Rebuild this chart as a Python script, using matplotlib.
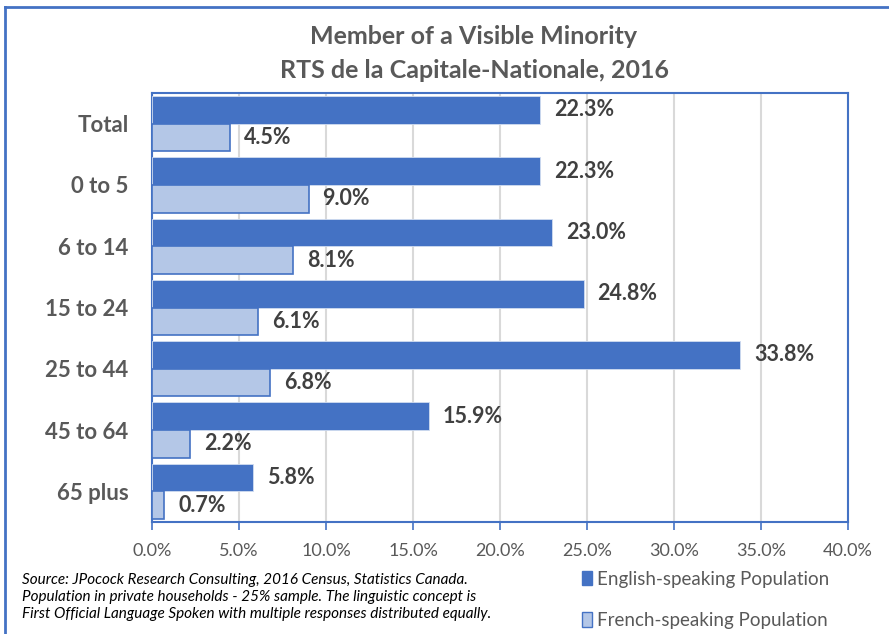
"""Member of a Visible Minority - RTS de la Capitale-Nationale, 2016"""

import numpy as np
from matplotlib import pyplot as plt
from matplotlib.patches import Patch
from matplotlib.lines import Line2D

plt.rcParams['font.family'] = ['Lato', 'DejaVu Sans']

categories = ["Total", "0 to 5", "6 to 14", "15 to 24", "25 to 44", "45 to 64", "65 plus"]
english = [22.3, 22.3, 23.0, 24.8, 33.8, 15.9, 5.8]
french = [4.5, 9.0, 8.1, 6.1, 6.8, 2.2, 0.7]
xticks = [0, 5, 10, 15, 20, 25, 30, 35, 40]

blue = "#4472C4"
light = "#B4C7E7"
grey = "#595959"

fig = plt.figure(figsize=(8.89, 6.34), dpi=100)
ax = fig.add_axes([152 / 889, 1 - 522 / 634, 696 / 889, 429 / 634])

y = np.arange(len(categories))
h = 0.45
ax.barh(y - h / 2, english, height=h, color=blue, edgecolor="#D0DCF0", linewidth=0.6, zorder=3)
ax.barh(y + h / 2, french, height=h, color=light, edgecolor=blue, linewidth=1.2, zorder=3)

# data labels
for yi, v in zip(y, english):
    ax.text(v + 0.8, yi - h / 2, f"{v:.1f}%", va="center", ha="left",
            fontsize=15.5, fontweight="bold", color="#404040")
for yi, v in zip(y, french):
    ax.text(v + 0.8, yi + h / 2, f"{v:.1f}%", va="center", ha="left",
            fontsize=15.5, fontweight="bold", color="#404040")

ax.set_xlim(0, 40)
ax.set_ylim(len(categories) - 0.5, -0.5)
ax.set_xticks(xticks)
ax.set_xticklabels([f"{t:.1f}%" for t in xticks], fontsize=13, color=grey)
ax.set_yticks(y)
ax.set_yticklabels(categories, fontsize=16, fontweight="bold", color=grey)
ax.tick_params(axis="y", length=0, pad=17)
ax.tick_params(axis="x", direction="out", length=6, width=1.2, color=blue, pad=9)
ax.grid(axis="x", color="#D9D9D9", linewidth=1.5, zorder=0)
for s in ax.spines.values():
    s.set_color(blue)
    s.set_linewidth(1.5)

fig.text(474 / 889, 1 - 37 / 634, "Member of a Visible Minority", ha="center", va="center",
         fontsize=18, fontweight="bold", color=grey)
fig.text(474 / 889, 1 - 70 / 634, "RTS de la Capitale-Nationale, 2016", ha="center", va="center",
         fontsize=18, fontweight="bold", color=grey)

fig.text(22 / 889, 1 - 597 / 634,
         "Source: JPocock Research Consulting, 2016 Census, Statistics Canada.\n"
         "Population in private households - 25% sample. The linguistic concept is\n"
         "First Official Language Spoken with multiple responses distributed equally.",
         ha="left", va="center", fontsize=11, fontstyle="italic", color="black", linespacing=1.25)

handles = [Patch(facecolor=blue, edgecolor=blue), Patch(facecolor=light, edgecolor=blue)]
fig.legend(handles, ["English-speaking Population", "French-speaking Population"],
           loc="upper left", bbox_to_anchor=(574 / 889, 1 - 563 / 634), frameon=False,
           fontsize=13.5, labelcolor=grey, handlelength=0.55, handleheight=0.8,
           handletextpad=0.3, labelspacing=1.3, borderaxespad=0)

# outer chart border (left and top visible)
fig.add_artist(Line2D([5 / 889, 5 / 889], [0, 1 - 7 / 634], color=blue, linewidth=2))
fig.add_artist(Line2D([5 / 889, 1], [1 - 7 / 634, 1 - 7 / 634], color=blue, linewidth=2))

fig.savefig("out.png", dpi=100)
